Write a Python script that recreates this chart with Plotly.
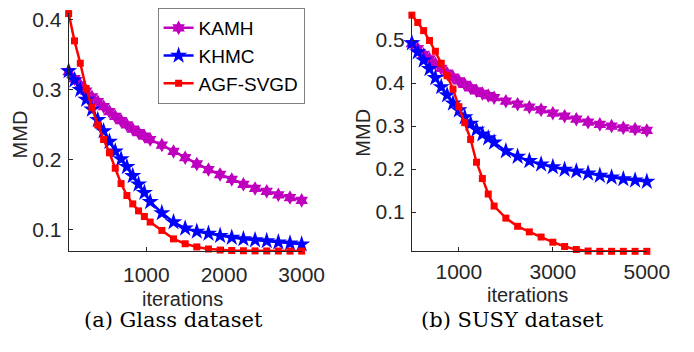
import plotly.graph_objects as go

# ---------------- data ----------------
iters_glass = [0, 75, 150, 225, 300, 375, 450, 525, 600, 675, 750, 825, 900, 975, 1050,
               1200, 1350, 1500, 1650, 1800, 1950, 2100, 2250, 2400, 2550, 2700, 2850, 3000]
kamh_glass = [0.326, 0.316, 0.307, 0.298, 0.290, 0.283, 0.276, 0.269, 0.262, 0.256, 0.250,
              0.244, 0.239, 0.234, 0.229, 0.221, 0.212, 0.203, 0.194, 0.186, 0.179, 0.172,
              0.165, 0.159, 0.155, 0.150, 0.146, 0.142]
khmc_glass = [0.327, 0.314, 0.300, 0.286, 0.272, 0.257, 0.241, 0.226, 0.212, 0.201, 0.190,
              0.177, 0.165, 0.153, 0.140, 0.124, 0.111, 0.102, 0.0975, 0.0945, 0.0915, 0.0888,
              0.0868, 0.0853, 0.084, 0.0822, 0.0807, 0.0793]
agf_glass = [0.409, 0.370, 0.338, 0.302, 0.275, 0.250, 0.229, 0.210, 0.188, 0.166, 0.149,
             0.137, 0.127, 0.119, 0.111, 0.099, 0.087, 0.080, 0.0755, 0.0725, 0.071, 0.0703,
             0.070, 0.0698, 0.0697, 0.0696, 0.0695, 0.0695]

iters_susy = [0, 125, 250, 375, 500, 625, 750, 875, 1000, 1125, 1250, 1375, 1500, 1625, 1750,
              2000, 2250, 2500, 2750, 3000, 3250, 3500, 3750, 4000, 4250, 4500, 4750, 5000]
kamh_susy = [0.492, 0.480, 0.467, 0.456, 0.445, 0.434, 0.423, 0.414, 0.405, 0.397, 0.389,
             0.382, 0.376, 0.371, 0.366, 0.358, 0.351, 0.344, 0.338, 0.330, 0.323, 0.316,
             0.309, 0.304, 0.300, 0.296, 0.293, 0.290]
khmc_susy = [0.493, 0.472, 0.453, 0.433, 0.412, 0.391, 0.372, 0.353, 0.337, 0.321, 0.306,
             0.292, 0.281, 0.272, 0.262, 0.242, 0.229, 0.219, 0.211, 0.205, 0.199, 0.195,
             0.190, 0.185, 0.181, 0.177, 0.174, 0.171]
agf_susy = [0.558, 0.541, 0.522, 0.499, 0.474, 0.446, 0.417, 0.386, 0.345, 0.308, 0.269,
            0.216, 0.178, 0.142, 0.114, 0.086, 0.067, 0.054, 0.042, 0.030, 0.020, 0.013,
            0.0095, 0.0088, 0.0088, 0.0088, 0.0088, 0.0088]

series_names = ["KAMH", "KHMC", "AGF-SVGD"]
glass_xticks = [1000, 2000, 3000]
glass_yticks = [0.1, 0.2, 0.3, 0.4]
susy_xticks = [1000, 3000, 5000]
susy_yticks = [0.1, 0.2, 0.3, 0.4, 0.5]
captions = ["(a) Glass dataset", "(b) SUSY dataset"]

# ---------------- styling ----------------
W, H = 694, 352
styles = {
    "KAMH": dict(color="#BF00BF", symbol="hexagram", size=11),
    "KHMC": dict(color="#0000FF", symbol="star", size=13),
    "AGF-SVGD": dict(color="#FF0000", symbol="square", size=7),
}
AX = "#262626"
SANS = "Liberation Sans, Arial, Helvetica, sans-serif"
SERIF = "DejaVu Serif, serif"

fig = go.Figure()
panels = [
    (iters_glass, [kamh_glass, khmc_glass, agf_glass], "x", "y", True),
    (iters_susy, [kamh_susy, khmc_susy, agf_susy], "x2", "y2", False),
]
for xs, ys_list, xa, ya, show in panels:
    for name, ys in zip(series_names, ys_list):
        st = styles[name]
        fig.add_trace(go.Scatter(
            x=xs, y=ys, mode="lines+markers", name=name, showlegend=show,
            xaxis=xa, yaxis=ya, cliponaxis=False,
            line=dict(color=st["color"], width=2.5),
            marker=dict(symbol=st["symbol"], size=st["size"], color=st["color"],
                        line=dict(width=0)),
        ))

def px_x(p):
    return p / W

def px_y(p):
    return 1 - p / H

common_axis = dict(showline=True, linecolor=AX, linewidth=1, ticks="inside", ticklen=4,
                   tickcolor=AX, showgrid=False, zeroline=False, mirror=False,
                   tickfont=dict(family=SANS, size=21, color=AX))

fig.update_layout(
    width=W, height=H, margin=dict(l=0, r=0, t=0, b=0),
    paper_bgcolor="white", plot_bgcolor="white",
    xaxis=dict(domain=[px_x(71), px_x(312)], range=[0, 3000], tickvals=glass_xticks,
               anchor="y", ticklabelstandoff=4, **common_axis),
    yaxis=dict(domain=[px_y(250), px_y(8)], range=[0.069, 0.41], tickvals=glass_yticks,
               tickformat=".1f", anchor="x", ticklabelstandoff=2, **common_axis),
    xaxis2=dict(domain=[px_x(426), px_x(669)], range=[0, 5000], tickvals=susy_xticks,
                anchor="y2", ticklabelstandoff=1, **common_axis),
    yaxis2=dict(domain=[px_y(250), px_y(9.4)], range=[0.0085, 0.56], tickvals=susy_yticks,
                tickformat=".1f", anchor="x2", ticklabelstandoff=2, **common_axis),
    legend=dict(x=px_x(163), y=px_y(3), xanchor="left", yanchor="top",
                bgcolor="white", bordercolor="#808080", borderwidth=1,
                font=dict(family=SANS, size=19, color="black"),
                itemwidth=30, tracegroupgap=0),
    showlegend=True,
)

annots = [
    dict(text="iterations", x=px_x(189), y=px_y(298), font=dict(family=SANS, size=20, color=AX)),
    dict(text="iterations", x=px_x(546), y=px_y(294), font=dict(family=SANS, size=20, color=AX)),
    dict(text="MMD", x=px_x(21), y=px_y(131), textangle=-90, font=dict(family=SANS, size=20, color=AX)),
    dict(text="MMD", x=px_x(376), y=px_y(130), textangle=-90, font=dict(family=SANS, size=20, color=AX)),
    dict(text=captions[0], x=px_x(179), y=px_y(320), font=dict(family=SERIF, size=21, color="black")),
    dict(text=captions[1], x=px_x(530), y=px_y(320), font=dict(family=SERIF, size=21, color="black")),
]
for a in annots:
    fig.add_annotation(xref="paper", yref="paper", showarrow=False, xanchor="center",
                       yanchor="middle", **a)

fig.write_html("out.html", config={"displayModeBar": False},
               post_script="document.body.style.margin='0px';")
